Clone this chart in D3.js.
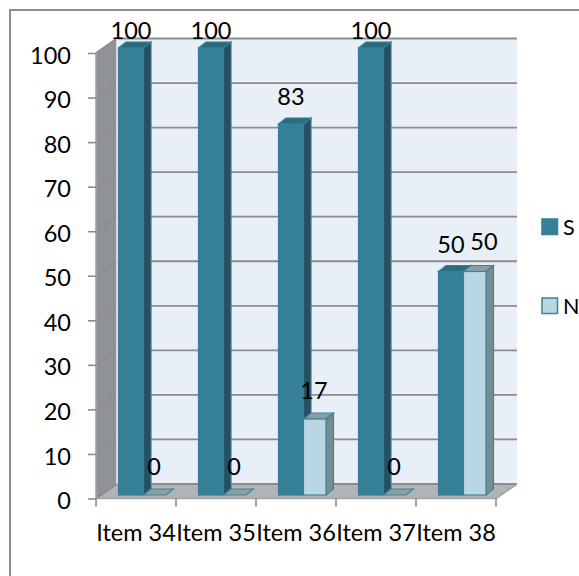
<!DOCTYPE html>
<html>
<head>
<meta charset="utf-8">
<script src="https://cdn.jsdelivr.net/npm/d3@7"></script>
<style>
  html, body { margin: 0; padding: 0; background: #fff; }
  svg { display: block; }
  text { font-family: Lato, "Open Sans", sans-serif; fill: #000; }
</style>
</head>
<body>
<svg id="chart" width="579" height="576"></svg>
<script>
const categories = ["Item 34", "Item 35", "Item 36", "Item 37", "Item 38"];
const seriesNames = ["S", "N"];
const sValues = [100, 100, 83, 100, 50];
const nValues = [0, 0, 17, 0, 50];
const yTicks = [0, 10, 20, 30, 40, 50, 60, 70, 80, 90, 100];

const svg = d3.select("#chart");
const fontSize = 23.5;

// Front plane of the plot box and the depth of the 3D projection
const x = d3.scaleBand().domain(categories).range([96, 496]);
const y = d3.scaleLinear().domain([0, 100]).range([498.5, 53]);
const barY = d3.scaleLinear().domain([0, 100]).range([495, 48]);
const inner = d3.scaleBand().domain(seriesNames).range([22.5, 72.5]);
const wallDx = 21, wallDy = -14.5;
const barDx = 7.5, barDy = -6;

const colors = {
  S: { front: "#357f97", side: "#25505f", top: "#2a6b7f", edge: "#357f97" },
  N: { front: "#bbd6e3", side: "#7a8a91", top: "#8a9ca4", edge: "#3f8499" }
};
const grey = "#8c8c8c";

const poly = pts => pts.map(p => p.join(",")).join(" ");

// Chart area frame (left and top edges)
svg.append("path")
  .attr("d", "M10,576V10H579")
  .attr("fill", "none").attr("stroke", "#8e8e8e").attr("stroke-width", 2);

const [x0, x1] = x.range();
const y0 = y(0), y100 = y(100);

// Walls and floor of the plot box
svg.append("polygon")
  .attr("points", poly([[x0 + wallDx, y100 + wallDy], [x1 + wallDx, y100 + wallDy], [x1 + wallDx, y0 + wallDy], [x0 + wallDx, y0 + wallDy]]))
  .attr("fill", "#e8eff6");
svg.append("polygon")
  .attr("points", poly([[x0, y100], [x0 + wallDx, y100 + wallDy], [x0 + wallDx, y0 + wallDy], [x0, y0]]))
  .attr("fill", "#909396");
svg.append("polygon")
  .attr("points", poly([[x0, y0], [x0 + wallDx, y0 + wallDy], [x1 + wallDx, y0 + wallDy], [x1, y0]]))
  .attr("fill", "#b1b4b6");

// Gridlines folded across the side wall and the back wall
svg.append("g").selectAll("polyline").data(yTicks).join("polyline")
  .attr("points", d => poly([[x0, y(d)], [x0 + wallDx, y(d) + wallDy], [x1 + wallDx, y(d) + wallDy]]))
  .attr("fill", "none").attr("stroke", grey).attr("stroke-width", 1.8);

// Floor front edge, wall edges and the right floor edge
svg.append("path")
  .attr("d", `M${x0},${y100}V${y0}H${x1}L${x1 + wallDx},${y0 + wallDy}`)
  .attr("fill", "none").attr("stroke", "#a0a3a5").attr("stroke-width", 1.6);
svg.append("path")
  .attr("d", `M${x0 + wallDx},${y100 + wallDy}V${y0 + wallDy}`)
  .attr("fill", "none").attr("stroke", "#eef2f6").attr("stroke-width", 1.5);

// Axes: ticks and labels from the scales
const yAxis = d3.axisLeft(y).tickValues(yTicks).tickSize(8).tickPadding(17);
const yG = svg.append("g").attr("transform", `translate(${x0},0)`).call(yAxis);
yG.select(".domain").remove();
yG.selectAll("line").attr("stroke", grey).attr("stroke-width", 1.6);
yG.selectAll("text").attr("font-size", fontSize).attr("font-family", "Lato").attr("fill", "#000").attr("dy", "0.43em");

const xG = svg.append("g").attr("transform", `translate(0,${y0})`);
xG.selectAll("line").data([...categories.map(c => x(c)), x1]).join("line")
  .attr("x1", d => d).attr("x2", d => d).attr("y1", 0).attr("y2", 8)
  .attr("stroke", grey).attr("stroke-width", 1.6);
xG.selectAll("text").data(categories).join("text")
  .attr("x", d => x(d) + x.bandwidth() / 2)
  .attr("y", 42.5)
  .attr("text-anchor", "middle")
  .attr("font-size", fontSize)
  .text(d => d);

// 3D column: top face, right side face and front face
function drawColumn(g, left, width, value, c) {
  const top = barY(value), base = barY(0), right = left + width;
  g.append("polygon")
    .attr("points", poly([[left, top], [left + barDx, top + barDy], [right + barDx, top + barDy], [right, top]]))
    .attr("fill", c.top).attr("stroke", c.edge).attr("stroke-width", 1.2);
  if (value > 0) {
    g.append("polygon")
      .attr("points", poly([[right, top], [right + barDx, top + barDy], [right + barDx, base + barDy], [right, base]]))
      .attr("fill", c.side).attr("stroke", c.edge).attr("stroke-width", 1.2);
    g.append("rect")
      .attr("x", left).attr("y", top).attr("width", width).attr("height", base - top)
      .attr("fill", c.front).attr("stroke", c.edge).attr("stroke-width", 1.2);
  }
}

const columns = svg.append("g");
const rows = categories.map((c, i) => ({ c, S: sValues[i], N: nValues[i] }));
rows.forEach(r => {
  // S first: the N column covers the lower part of the S side face
  drawColumn(columns, x(r.c) + inner("S"), inner.bandwidth(), r.S, colors.S);
  drawColumn(columns, x(r.c) + inner("N"), inner.bandwidth() - 2.5, r.N, colors.N);
});

// Value labels; when both columns tie, the N label is pushed right and up to stay clear
const labels = svg.append("g");
rows.forEach(r => {
  const tied = r.S === r.N;
  labels.append("text")
    .attr("x", x(r.c) + inner("S") + 12.5)
    .attr("y", Math.max(39, barY(r.S) - 19))
    .attr("text-anchor", "middle").attr("font-size", fontSize).text(r.S);
  labels.append("text")
    .attr("x", x(r.c) + inner("N") + (tied ? 20.5 : 10.5))
    .attr("y", barY(r.N) - (tied ? 22 : 20))
    .attr("text-anchor", "middle").attr("font-size", fontSize).text(r.N);
});

// Legend
const legendY = d3.scalePoint().domain(seriesNames).range([219, 298]);
const legend = svg.append("g");
seriesNames.forEach(s => {
  legend.append("rect")
    .attr("x", 542).attr("y", legendY(s)).attr("width", 15.5).attr("height", 15.5)
    .attr("fill", colors[s].front).attr("stroke", colors[s].edge).attr("stroke-width", 1.5);
  legend.append("text")
    .attr("x", 563).attr("y", legendY(s) + 15.5)
    .attr("font-size", 21.5).text(s);
});
</script>
</body>
</html>
